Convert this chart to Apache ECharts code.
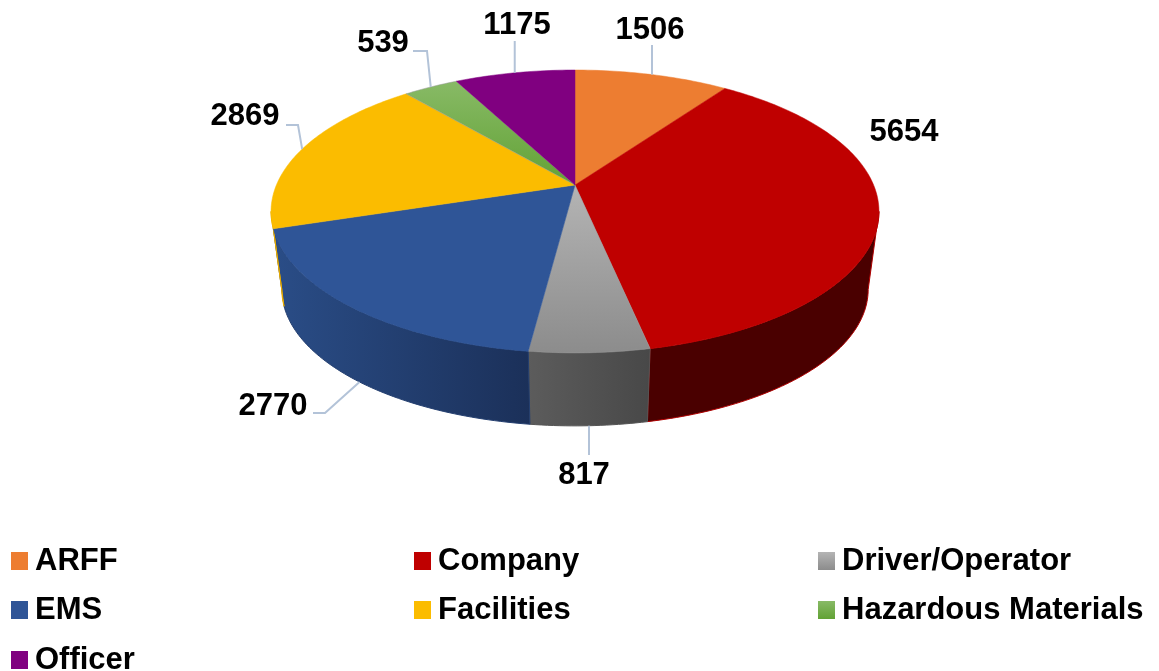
<!DOCTYPE html>
<html>
<head>
<meta charset="utf-8">
<title>Pie</title>
<script src="https://cdn.jsdelivr.net/npm/echarts@6/dist/echarts.min.js"></script>
<style>
  html, body { margin: 0; padding: 0; background: #fff; }
  #chart { width: 1159px; height: 671px; }
</style>
</head>
<body>
<div id="chart"></div>
<script>
// chart data
const categories = ["ARFF", "Company", "Driver/Operator", "EMS", "Facilities", "Hazardous Materials", "Officer"];
const values = [1506, 5654, 817, 2770, 2869, 539, 1175];

const total = values.reduce((a, b) => a + b, 0);
const FONT = '"Liberation Sans", Arial, sans-serif';

// perspective disc, top face and bottom face
const TOP = { cx: 575, cy: 185, a: 298.6, b: 136.5, p: 0.187 };
const BOTTOM = { cx: 575, cy: 264, a: 288, b: 131.6, p: 0.187 };
const LEADER = "#b3c3d8";
// angles where the rim turns away from the viewer
const WALL_FROM = 180 - (Math.acos(TOP.p) * 180) / Math.PI;
const WALL_TO = 360 - WALL_FROM;

const grad = (c0, c1, horizontal) =>
  new echarts.graphic.LinearGradient(0, 0, horizontal ? 1 : 0, horizontal ? 0 : 1, [
    { offset: 0, color: c0 },
    { offset: 1, color: c1 },
  ]);

const topFill = [
  "#ed7d31",
  "#bf0000",
  grad("#b4b4b4", "#8c8c8c"),
  "#2f5597",
  "#fbbc00",
  grad("#88ba66", "#62a235"),
  "#800080",
];
const sideFill = [
  "#000",
  "#4a0000",
  grad("#5c5c5c", "#484848", true),
  grad("#2a4d87", "#1b3059", true),
  "#e8ac00",
  "#000",
  "#000",
];
const sideStroke = [null, "#b00000", "#555", "#243f70", "#e8ac00", null, null];

// label centre and the bend of its leader line, the line start comes from the slice
const labelPos = [
  [650, 30], [904, 132], [584, 475], [273, 406], [245, 116], [383, 43], [517, 25],
];
const leaderBend = [
  [[null, 45]],
  null,
  [[null, 455]],
  [[325, 413], [313, 413]],
  [[298, 125], [286, 125]],
  [[427, 51], [413, 51]],
  [[null, 41]],
];

function project(disc, deg) {
  const r = (deg * Math.PI) / 180;
  const d = 1 + disc.p * Math.cos(r);
  return [disc.cx + (disc.a * Math.sin(r)) / d, disc.cy - (disc.b * Math.cos(r)) / d];
}

function arc(disc, from, to) {
  const pts = [];
  const n = Math.max(2, Math.ceil(Math.abs(to - from)));
  for (let i = 0; i <= n; i++) pts.push(project(disc, from + ((to - from) * i) / n));
  return pts;
}

function sliceAngles(i) {
  const before = values.slice(0, i).reduce((a, b) => a + b, 0);
  return [(before / total) * 360, ((before + values[i]) / total) * 360];
}

function renderSlice(params) {
  const i = params.seriesIndex;
  const [a0, a1] = sliceAngles(i);
  const mid = (a0 + a1) / 2;
  const children = [];

  // wall, only the part that faces the viewer
  const s0 = Math.max(a0, WALL_FROM);
  const s1 = Math.min(a1, WALL_TO);
  if (s1 > s0) {
    children.push({
      type: "polygon",
      z2: 1,
      shape: { points: arc(TOP, s0, s1).concat(arc(BOTTOM, s1, s0)) },
      style: { fill: sideFill[i], stroke: sideStroke[i], lineWidth: 1 },
    });
  }

  // top face
  const flat = typeof topFill[i] === "string" ? topFill[i] : "#999";
  children.push({
    type: "polygon",
    z2: 2,
    shape: { points: [[TOP.cx, TOP.cy]].concat(arc(TOP, a0, a1)) },
    style: { fill: topFill[i], stroke: flat, lineWidth: 0.5 },
  });

  // leader line
  if (leaderBend[i]) {
    const start = project(mid > WALL_FROM && mid < WALL_TO ? BOTTOM : TOP, mid);
    const rest = leaderBend[i].map((p) => [p[0] === null ? start[0] : p[0], p[1]]);
    children.push({
      type: "polyline",
      z2: 3,
      shape: { points: [start].concat(rest) },
      style: { fill: null, stroke: LEADER, lineWidth: 2 },
    });
  }

  // value label
  children.push({
    type: "text",
    z2: 4,
    style: {
      x: labelPos[i][0],
      y: labelPos[i][1],
      text: String(values[i]),
      fill: "#000",
      font: "bold 31px " + FONT,
      textAlign: "center",
      textVerticalAlign: "middle",
    },
  });

  return { type: "group", children };
}

const legendIcon = (name) => {
  const fill = topFill[categories.indexOf(name)];
  return { name, icon: "rect", itemStyle: { color: fill } };
};

function legendColumn(left, top, names) {
  return {
    left,
    top,
    orient: "vertical",
    align: "left",
    padding: 0,
    itemWidth: 17,
    itemHeight: 18,
    itemGap: 15,
    selectedMode: false,
    data: names.map(legendIcon),
    textStyle: {
      color: "#000",
      fontFamily: FONT,
      fontWeight: "bold",
      fontSize: 31,
      lineHeight: 34,
      padding: [0, 0, 0, 2],
    },
  };
}

const chart = echarts.init(document.getElementById("chart"), null, { renderer: "canvas" });
chart.setOption({
  animation: false,
  backgroundColor: "#fff",
  legend: [
    legendColumn(11, 544, ["ARFF", "EMS"]),
    legendColumn(11, 643, ["Officer"]),
    legendColumn(414, 544, ["Company", "Facilities"]),
    legendColumn(818, 544, ["Driver/Operator", "Hazardous Materials"]),
  ],
  series: categories.map((name, i) => ({
    type: "custom",
    name,
    coordinateSystem: "none",
    silent: true,
    itemStyle: { color: typeof topFill[i] === "string" ? topFill[i] : "#999" },
    renderItem: renderSlice,
    data: [values[i]],
  })),
});
</script>
</body>
</html>
